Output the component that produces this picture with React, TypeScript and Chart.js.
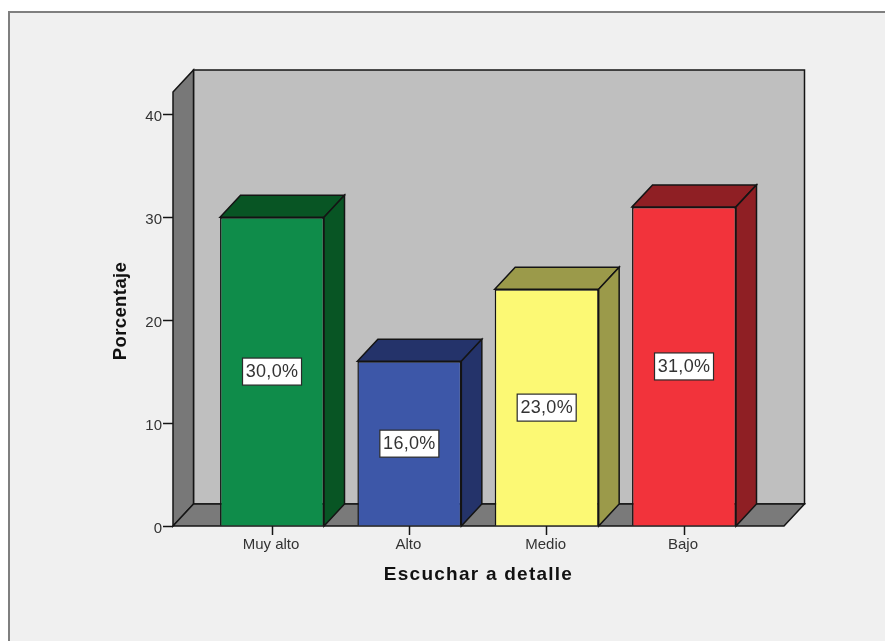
import React, { useEffect, useRef } from "react";
import { Chart, registerables } from "chart.js";

Chart.register(...registerables);

const categories = ["Muy alto", "Alto", "Medio", "Bajo"];
const percentages = [30, 16, 23, 31];
const frontColors = ["#0f8c4a", "#3d57a8", "#fcf974", "#f2333b"];
const shadeColors = ["#085524", "#24336a", "#9b9a4a", "#8f1f24"];
const yTicks = [0, 10, 20, 30, 40];
const xTitle = "Escuchar a detalle";
const yTitle = "Porcentaje";

// Oblique offset of the back plane relative to the front plane.
const DEPTH_X = 20.5;
const DEPTH_Y = -22;
const INK = "#141414";
const LABEL_FONT = '"Liberation Sans", Arial, sans-serif';

function polygon(ctx: CanvasRenderingContext2D, pts: number[][], fill: string, lineWidth = 1.5) {
  ctx.beginPath();
  pts.forEach(([x, y], i) => (i ? ctx.lineTo(x, y) : ctx.moveTo(x, y)));
  ctx.closePath();
  ctx.fillStyle = fill;
  ctx.fill();
  ctx.lineWidth = lineWidth;
  ctx.strokeStyle = INK;
  ctx.lineJoin = "miter";
  ctx.stroke();
}

// Walls and floor of the box, the side and top of every bar, value boxes and axis titles.
const extrusion = {
  id: "extrusion",
  beforeDatasetsDraw(chart: any) {
    const { ctx, chartArea: a } = chart;
    const { left: l, right: r, top: t, bottom: b } = a;
    const dx = DEPTH_X;
    const dy = DEPTH_Y;
    ctx.save();
    polygon(ctx, [[l + dx, t + dy], [r + dx, t + dy], [r + dx, b + dy], [l + dx, b + dy]], "#bfbfbf");
    polygon(ctx, [[l, t], [l + dx, t + dy], [l + dx, b + dy], [l, b]], "#787878");
    polygon(ctx, [[l, b], [l + dx, b + dy], [r + dx, b + dy], [r, b]], "#7a7a7a");
    chart.getDatasetMeta(0).data.forEach((bar: any, i: number) => {
      const half = bar.width / 2;
      const x0 = bar.x - half;
      const x1 = bar.x + half;
      const fill = shadeColors[i];
      polygon(ctx, [[x0, bar.y], [x0 + dx, bar.y + dy], [x1 + dx, bar.y + dy], [x1, bar.y]], fill);
      polygon(ctx, [[x1, bar.y], [x1 + dx, bar.y + dy], [x1 + dx, b + dy], [x1, b]], fill);
    });
    ctx.restore();
  },
  afterDatasetsDraw(chart: any) {
    const { ctx } = chart;
    const yScale = chart.scales.y;
    ctx.save();
    chart.getDatasetMeta(0).data.forEach((bar: any, i: number) => {
      const value = percentages[i];
      const text = `${value.toFixed(1).replace(".", ",")}%`;
      const cy = yScale.getPixelForValue(value / 2);
      const w = 59;
      const h = 27;
      ctx.fillStyle = "#ffffff";
      ctx.strokeStyle = "#2a2a2a";
      ctx.lineWidth = 1.2;
      ctx.fillRect(bar.x - w / 2, cy - h / 2, w, h);
      ctx.strokeRect(bar.x - w / 2, cy - h / 2, w, h);
      ctx.fillStyle = "#333333";
      ctx.font = `18px ${LABEL_FONT}`;
      ctx.letterSpacing = "0.3px";
      ctx.textAlign = "center";
      ctx.textBaseline = "middle";
      ctx.fillText(text, bar.x, cy + 0.5);
    });
    ctx.restore();
  },
  afterDraw(chart: any) {
    const { ctx, chartArea: a } = chart;
    ctx.save();
    ctx.fillStyle = "#111111";
    ctx.textAlign = "center";
    ctx.textBaseline = "middle";
    ctx.font = `bold 19px ${LABEL_FONT}`;
    ctx.letterSpacing = "1.25px";
    ctx.fillText(xTitle, (a.left + a.right) / 2, a.bottom + 48.5);
    ctx.translate(121, (a.top + a.bottom) / 2 + 2);
    ctx.rotate(-Math.PI / 2);
    ctx.font = `bold 18.5px ${LABEL_FONT}`;
    ctx.letterSpacing = "0.4px";
    ctx.fillText(yTitle, 0, 0);
    ctx.restore();
  },
};

export default function App() {
  const ref = useRef<HTMLCanvasElement>(null);

  useEffect(() => {
    const chart = new Chart(ref.current as HTMLCanvasElement, {
      type: "bar",
      data: {
        datasets: [
          {
            label: yTitle,
            data: categories.map((_, i) => ({ x: i, y: percentages[i] })),
            backgroundColor: frontColors,
            borderColor: INK,
            borderWidth: 1.5,
            barPercentage: 0.757,
            categoryPercentage: 1,
          },
        ],
      },
      plugins: [extrusion],
      options: {
        responsive: false,
        animation: false,
        layout: { padding: { top: 92, right: 101, left: 0, bottom: 0 } },
        plugins: { legend: { display: false }, tooltip: { enabled: false } },
        scales: {
          x: {
            type: "linear",
            offset: false,
            min: -0.721,
            max: 3.728,
            afterFit: (s: any) => {
              s.height = 115;
            },
            afterBuildTicks: (s: any) => {
              s.ticks = categories.map((_, i) => ({ value: i }));
            },
            grid: { offset: false, drawOnChartArea: false, color: INK, tickLength: 9, tickWidth: 1.5 },
            border: { display: false },
            ticks: {
              autoSkip: false,
              maxRotation: 0,
              padding: 1,
              labelOffset: -1,
              color: "#333333",
              font: { family: LABEL_FONT, size: 15 },
              callback: (v: any) => categories[v] ?? "",
            },
          },
          y: {
            min: 0,
            max: 42.16,
            afterFit: (s: any) => {
              s.width = 173;
            },
            afterBuildTicks: (s: any) => {
              s.ticks = yTicks.map((value) => ({ value }));
            },
            grid: { drawOnChartArea: false, color: INK, tickLength: 10, tickWidth: 1.5 },
            border: { display: false },
            ticks: {
              padding: 1,
              color: "#333333",
              labelOffset: 3,
              font: { family: LABEL_FONT, size: 15 },
            },
          },
        },
      },
    } as any);
    return () => chart.destroy();
  }, []);

  return (
    <div style={{ position: "fixed", left: 0, top: 0, width: 885, height: 641, background: "#ffffff", overflow: "hidden" }}>
      <div
        style={{
          position: "absolute",
          left: 8,
          top: 11,
          right: 0,
          bottom: 0,
          background: "#f0f0f0",
          borderLeft: "2px solid #7f7f7f",
          borderTop: "2px solid #7f7f7f",
        }}
      />
      <canvas ref={ref} width={885} height={641} style={{ position: "absolute", left: 0, top: 0, display: "block" }} />
    </div>
  );
}
